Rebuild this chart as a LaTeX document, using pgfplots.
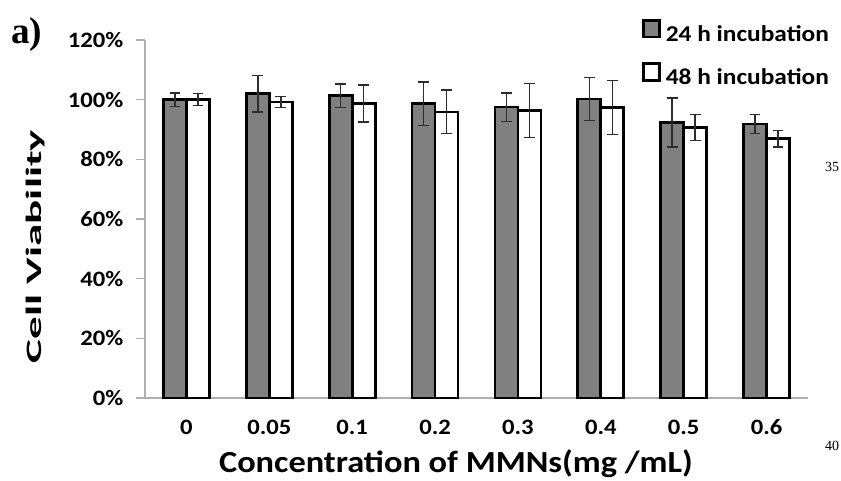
\documentclass[border=0pt]{standalone}
\usepackage{fontspec}
\setmainfont{Carlito}[FakeStretch=1.12]
\newfontfamily\serif{Liberation Serif}
\usepackage{graphicx}
\usepackage{pgfplots}
\pgfplotsset{compat=1.18}
\definecolor{barg}{RGB}{128,128,128}
\definecolor{axg}{RGB}{175,175,175}
\definecolor{errc}{RGB}{45,45,45}
\begin{document}
\begin{tikzpicture}
\path[use as bounding box] (0,0) rectangle (630.75pt,360pt);
\begin{axis}[
  at={(108.75pt,61.5pt)}, anchor=south west,
  scale only axis, width=497.25pt, height=268.5pt,
  xmin=-0.5, xmax=7.5, ymin=0, ymax=120,
  ybar=0pt, bar width=17.25pt,
  axis lines=left,
  axis line style={-, axg, line width=1.2pt},
  xtick={0,...,7},
  xticklabels={0,0.05,0.1,0.2,0.3,0.4,0.5,0.6},
  ytick={0,20,...,120},
  yticklabels={0\%,20\%,40\%,60\%,80\%,100\%,120\%},
  tick align=outside,
  major tick length=6.75pt,
  ytick style={axg, line width=1.2pt},
  xtick style={draw=none},
  x tick label style={font=\fontsize{16.5pt}{18pt}\selectfont\bfseries, text height=11pt, text depth=0pt, yshift=-6pt},
  y tick label style={font=\fontsize{16.5pt}{18pt}\selectfont\bfseries, xshift=-6pt},
  xlabel={Concentration of MMNs(mg /mL)},
  xlabel style={font=\fontsize{23pt}{26pt}\selectfont\bfseries, at={(axis description cs:0.469,0)}, anchor=base, yshift=-56pt},
  ylabel={\scalebox{1.83}[1]{Cell Viability}},
  ylabel style={font=\fontsize{16.5pt}{18pt}\selectfont\bfseries, at={(axis description cs:-0.1554,0.423)}, anchor=base},
  legend style={at={(axis description cs:0.749,1.059)}, anchor=north west, draw=none, fill=none, inner sep=0pt,
    font=\fontsize{17pt}{20pt}\selectfont\bfseries, nodes={inner sep=0pt}, column sep=4pt, row sep=14pt},
  legend cell align=left,
  legend image code/.code={\draw[#1, line width=2pt] (0pt,-1.7pt) rectangle (12pt,10.7pt);},
  clip=false,
]
\addplot[fill=barg, draw=black, line width=2pt,
  error bars/.cd, y dir=both, y explicit,
  error bar style={errc, line width=1.1pt},
  error mark options={errc, line width=1.1pt, mark size=4pt, rotate=90}]
  coordinates {(0,100) +- (0,2.2) (1,102) +- (0,6.1) (2,101.3) +- (0,4.0) (3,98.7) +- (0,7.3)
               (4,97.5) +- (0,4.8) (5,100.2) +- (0,7.2) (6,92.4) +- (0,8.2) (7,91.8) +- (0,3.2)};
\addplot[fill=white, draw=black, line width=2pt,
  error bars/.cd, y dir=both, y explicit,
  error bar style={errc, line width=1.1pt},
  error mark options={errc, line width=1.1pt, mark size=4pt, rotate=90}]
  coordinates {(0,100) +- (0,2.0) (1,99.2) +- (0,1.8) (2,98.7) +- (0,6.2) (3,95.9) +- (0,7.3)
               (4,96.4) +- (0,9.0) (5,97.4) +- (0,9.1) (6,90.7) +- (0,4.3) (7,86.9) +- (0,2.8)};
\legend{24 h incubation, 48 h incubation}
\end{axis}
\node[anchor=base west, inner sep=0pt, font=\serif\bfseries\fontsize{28pt}{30pt}\selectfont] at (8.25pt,327.75pt) {a)};
\node[anchor=base, inner sep=0pt, font=\serif\fontsize{10.5pt}{12pt}\selectfont] at (624pt,231.2pt) {35};
\node[anchor=base, inner sep=0pt, font=\serif\fontsize{10.5pt}{12pt}\selectfont] at (624pt,22.5pt) {40};
\end{tikzpicture}
\end{document}
